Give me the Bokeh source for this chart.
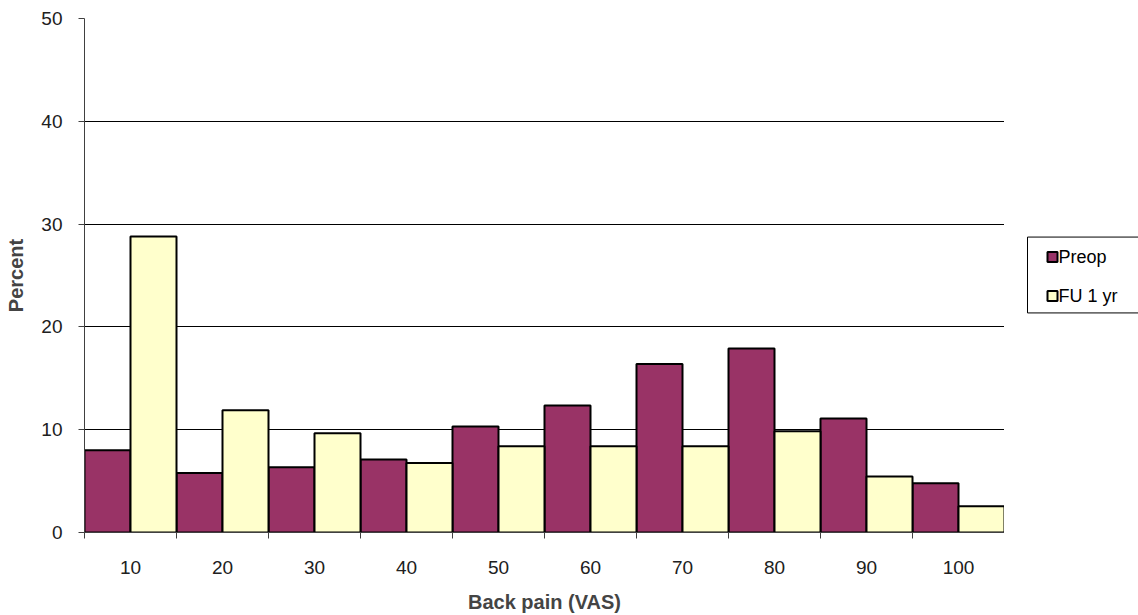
from bokeh.plotting import figure
from bokeh.models import ColumnDataSource, FixedTicker, Range1d
from bokeh.layouts import row
from bokeh.core.properties import value
from bokeh.embed import file_html
from bokeh.resources import INLINE

categories = [10, 20, 30, 40, 50, 60, 70, 80, 90, 100]
preop = [8.0, 5.8, 6.35, 7.1, 10.3, 12.35, 16.4, 17.9, 11.1, 4.8]
fu_1yr = [28.8, 11.9, 9.65, 6.75, 8.4, 8.4, 8.4, 9.85, 5.45, 2.55]
y_ticks = [0, 10, 20, 30, 40, 50]
series_names = ["Preop", "FU 1 yr"]
series_colors = ["#993366", "#FFFFCC"]

font = "Liberation Sans"
bin_w = 10
src = ColumnDataSource(dict(
    x_pre=[c - bin_w / 4 for c in categories],
    x_fu=[c + bin_w / 4 for c in categories],
    preop=preop,
    fu=fu_1yr,
))

# ---------------- main chart ----------------
p = figure(width=1004, height=615, output_backend="svg", toolbar_location=None,
           x_range=Range1d(categories[0] - bin_w / 2, categories[-1] + bin_w / 2),
           y_range=Range1d(0, 50),
           min_border_left=84, min_border_right=0, min_border_top=18, min_border_bottom=82)
p.outline_line_color = None
p.background_fill_color = "white"

p.vbar(x="x_pre", top="preop", width=bin_w / 2, source=src,
       fill_color=series_colors[0], line_color="black", line_width=2)
p.vbar(x="x_fu", top="fu", width=bin_w / 2, source=src,
       fill_color=series_colors[1], line_color="black", line_width=2)

boundaries = [c - bin_w / 2 for c in categories] + [categories[-1] + bin_w / 2]
p.xaxis.ticker = FixedTicker(ticks=categories, minor_ticks=boundaries)
p.xaxis.major_tick_line_color = None
p.xaxis.major_tick_out = 6
p.xaxis.minor_tick_out = 6
p.xaxis.minor_tick_in = 0
p.xaxis.minor_tick_line_color = "#404040"
p.xaxis.axis_line_color = "#404040"
p.xaxis.major_label_standoff = 22
p.xaxis.major_label_text_font = font
p.xaxis.major_label_text_font_size = "19px"
p.xaxis.major_label_text_color = "#202020"
p.xaxis.axis_label = "Back pain (VAS)"
p.xaxis.axis_label_text_font = font
p.xaxis.axis_label_text_font_size = "20px"
p.xaxis.axis_label_text_font_style = "bold"
p.xaxis.axis_label_standoff = 14

p.yaxis.ticker = FixedTicker(ticks=y_ticks)
p.yaxis.minor_tick_line_color = None
p.yaxis.major_tick_out = 6
p.yaxis.major_tick_in = 0
p.yaxis.major_tick_line_color = "#404040"
p.yaxis.axis_line_color = "#404040"
p.yaxis.major_label_standoff = 16
p.yaxis.major_label_text_font = font
p.yaxis.major_label_text_font_size = "19px"
p.yaxis.major_label_text_color = "#202020"
p.yaxis.axis_label = "Percent"
p.yaxis.axis_label_text_font = font
p.yaxis.axis_label_text_font_size = "20px"
p.yaxis.axis_label_text_font_style = "bold"
p.yaxis.axis_label_standoff = 11

p.xgrid.grid_line_color = None
p.ygrid.ticker = FixedTicker(ticks=y_ticks)
p.ygrid.grid_line_color = "black"
p.ygrid.grid_line_width = 1

# ---------------- legend panel (page-pixel coordinates, y downwards) ----------------
lg = figure(width=134, height=615, output_backend="svg", toolbar_location=None,
            x_range=Range1d(0, 134), y_range=Range1d(533, 18),
            x_axis_type=None, y_axis_type=None,
            min_border_left=0, min_border_right=0, min_border_top=18, min_border_bottom=82)
lg.outline_line_color = None
lg.xgrid.grid_line_color = None
lg.ygrid.grid_line_color = None

lg.quad(left=[23], right=[140], top=[237], bottom=[313],
        fill_color="white", line_color="black", line_width=1)
item_y = [257, 296]
lg.scatter(x=[48, 48], y=item_y, marker="square", size=10,
           fill_color=series_colors, line_color="black", line_width=2)
lg.text(x=[54, 54], y=item_y, text=series_names, text_font=value(font),
        text_font_size="18px", text_baseline="middle", text_align="left",
        text_color="black")

layout = row(p, lg, spacing=0)
open("out.html", "w").write(file_html(layout, INLINE))
